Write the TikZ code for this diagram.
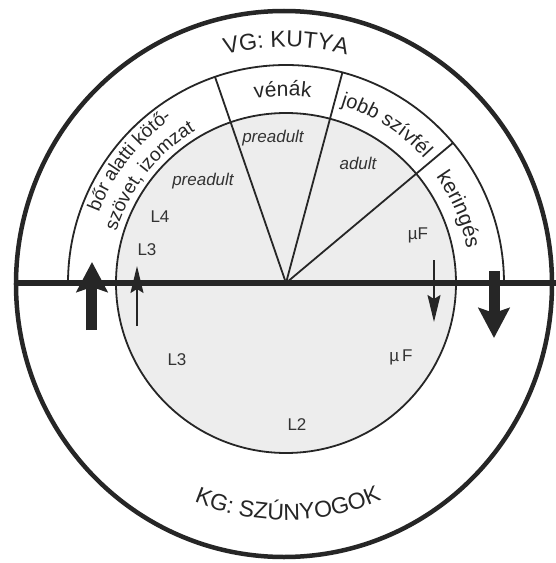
\documentclass[tikz,border=0pt]{standalone}
\usepackage{fontspec}
\setmainfont{Liberation Sans}
\usetikzlibrary{arrows.meta,decorations.text}

\newcommand{\ringfont}{\fontsize{21}{21}\selectfont}
\newcommand{\smallringfont}{\fontsize{19}{19}\selectfont}
\newcommand{\hostfont}{\fontsize{23}{23}\selectfont}

\tikzset{
	ink/.style={draw=black!85},
	lbl/.style={text=black!80,font=\fontsize{17}{17}\selectfont,inner sep=0pt},
	stage/.style={lbl,font=\fontsize{17}{17}\selectfont\itshape},
	bigarrow/.style={black!85,line width=11pt,-{Stealth[length=30pt,width=31pt,inset=5pt]}},
	thinarrow/.style={black!85,line width=1.4pt,-{Stealth[length=27pt,width=13pt,inset=4pt]}}
}

\begin{document}
\begin{tikzpicture}[x=1pt,y=1pt]
				\useasboundingbox (-286,-280) rectangle (270,283);
				\fill[white] (-286,-280) rectangle (270,283);
				\coordinate (O) at (0,0);
				% inner disc and the band of the dog
				\filldraw[ink,fill=black!7,line width=1.8pt] (O) circle (170);
				\draw[ink,line width=1.8pt] (218,0) arc[start angle=0,end angle=180,radius=218];
				\draw[ink,line width=1.8pt] (O) -- (109:218);
				\draw[ink,line width=1.8pt] (O) -- (75:218);
				\draw[ink,line width=1.8pt] (O) -- (40:218);
				% host circle and the dividing line
				\draw[ink,line width=4.5pt] (-2,-1) ellipse (268 and 273);
				\draw[ink,line width=6pt] (-270,0) -- (270,0);
				% texts along the arcs
				\path[decorate,decoration={text along path,text align=center,text={|\hostfont\color{black!85}|VG: KUTYA}}]
					(130:236) arc[start angle=130,end angle=50,radius=236];
				\path[decorate,decoration={text along path,text align=center,text={|\hostfont\color{black!85}|KG: SZÚNYOGOK}}]
					(225:237) arc[start angle=225,end angle=316,radius=237];
				\path[decorate,decoration={text along path,text align=center,text={|\smallringfont\color{black!85}|bőr alatti kötő-}}]
					(172:200) arc[start angle=172,end angle=112,radius=200];
				\path[decorate,decoration={text along path,text align=center,text={|\smallringfont\color{black!85}|szövet, izomzat}}]
					(172:177) arc[start angle=172,end angle=112,radius=177];
				\path[decorate,decoration={text along path,text align=center,text={|\ringfont\color{black!85}|vénák}}]
					(121:187) arc[start angle=121,end angle=61,radius=187];
				\path[decorate,decoration={text along path,text align=center,text={|\fontsize{20}{20}\selectfont\color{black!85}|jobb szívfél}}]
					(88:186) arc[start angle=88,end angle=27,radius=186];
				\path[decorate,decoration={text along path,text align=center,text={|\ringfont\color{black!85}|keringés}}]
					(53:184) arc[start angle=53,end angle=-7,radius=184];
				% stages inside the dog
				\node[stage] (preTop) at (-13,145) {preadult};
				\node[stage] (preLeft) at (-83,102) {preadult};
				\node[stage] (adult) at (72,120) {adult};
				\node[lbl] (L4) at (-126,66) {L4};
				\node[lbl] (L3up) at (-139,33) {L3};
				\node[lbl] (mFup) at (132,48) {µF};
				% stages inside the mosquito
				\node[lbl] (L3down) at (-109,-77) {L3};
				\node[lbl] (mFdown) at (115,-74) {µ\,F};
				\node[lbl] (L2) at (11,-142) {L2};
				% transmission arrows
				\coordinate (inA) at (-194,-47);
				\coordinate (inB) at (-194,21);
				\coordinate (upA) at (-149,-43);
				\coordinate (upB) at (-149,17);
				\coordinate (downA) at (148,23);
				\coordinate (downB) at (148,-39);
				\coordinate (outA) at (208,12);
				\coordinate (outB) at (208,-55);
				\draw[bigarrow] (inA) -- (inB);
				\draw[thinarrow] (upA) -- (upB);
				\draw[thinarrow] (downA) -- (downB);
				\draw[bigarrow] (outA) -- (outB);
			\end{tikzpicture}
\end{document}
